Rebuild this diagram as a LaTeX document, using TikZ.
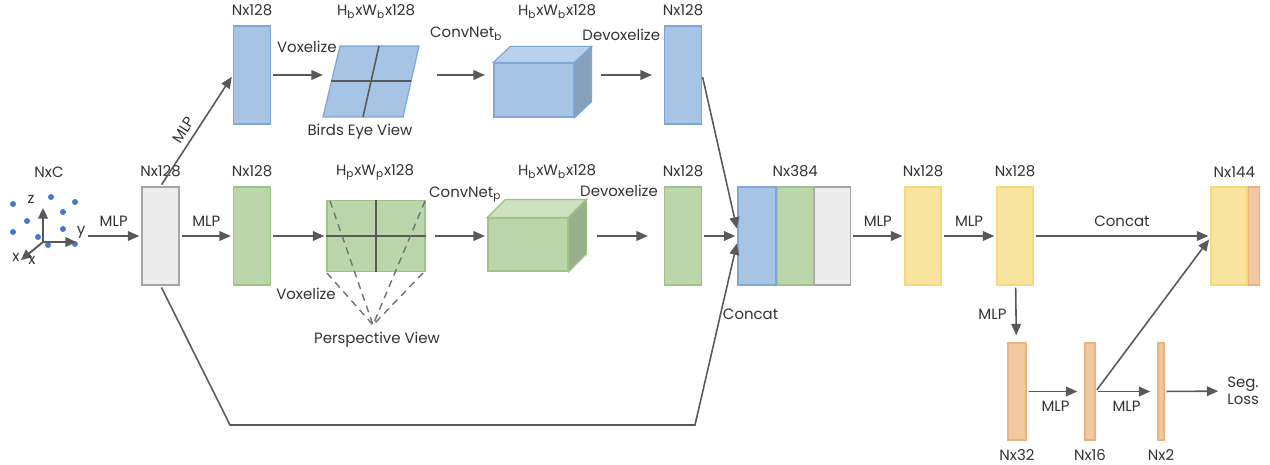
\documentclass[tikz,border=0pt]{standalone}
\usepackage{fontspec}
\setmainfont{Poppins}
\usepackage{tikz}
\usetikzlibrary{arrows.meta,positioning}
\definecolor{ink}{HTML}{333333}
\definecolor{wire}{HTML}{595959}
\definecolor{bevfill}{HTML}{A7C4E4}
\definecolor{bevline}{HTML}{7EA6D8}
\definecolor{bevtop}{HTML}{B9D0EA}
\definecolor{bevside}{HTML}{87A1BD}
\definecolor{pvfill}{HTML}{BCD6AC}
\definecolor{pvline}{HTML}{9CC487}
\definecolor{pvtop}{HTML}{CDE1C0}
\definecolor{pvside}{HTML}{99AE8B}
\definecolor{featfill}{HTML}{ECECEC}
\definecolor{featline}{HTML}{A6A6A6}
\definecolor{headfill}{HTML}{F9E49F}
\definecolor{headline}{HTML}{F6D97A}
\definecolor{segfill}{HTML}{F1C9A0}
\definecolor{segline}{HTML}{ECB27E}
\definecolor{dotblue}{HTML}{4A78D0}

\begin{document}
\begin{tikzpicture}[
    x=0.02cm, y=-0.02cm,
    every node/.style={text=ink, font=\fontsize{8.5}{9.5}\selectfont},
    bar/.style={draw, line width=0.7pt, inner sep=0pt, minimum width=0.74cm, minimum height=1.96cm},
    bevbar/.style={bar, fill=bevfill, draw=bevline},
    pvbar/.style={bar, fill=pvfill, draw=pvline},
    featbar/.style={bar, fill=featfill, draw=featline},
    headbar/.style={bar, fill=headfill, draw=headline, minimum width=0.72cm},
    segbar/.style={bar, fill=segfill, draw=segline, minimum height=1.94cm},
    lbl/.style={inner sep=0pt},
    flow/.style={-{Triangle[length=6.5pt,width=5.5pt]}, line width=0.9pt, color=wire, shorten <=1.2pt, shorten >=1.2pt},
    grid/.style={line width=0.9pt, color=wire},
    ray/.style={line width=0.8pt, color=wire!85, dash pattern=on 4pt off 3pt},
    axis/.style={-{Triangle[length=6pt,width=5.5pt]}, line width=1.1pt, color=wire}
]
    \useasboundingbox (0,0) rectangle (1270,465);

    % point cloud
    \foreach \px/\py in {13/204, 51/197, 75/202, 63/212, 27/221, 13/232, 63/229, 38/237, 48/245, 75/244}
        \fill[dotblue] (\px,\py) circle (3);
    \coordinate (origin) at (43,242);
    \draw[axis] (origin) -- (43,208);
    \draw[axis] (origin) -- (76,242);
    \draw[axis] (origin) -- (21,260);
    \node[lbl] at (31,199) {z};
    \node[lbl] at (81,232) {y};
    \node[lbl] at (16,257) {x};
    \node[lbl] at (32,260) {x};
    \node[lbl] at (49,172) {NxC};
    \coordinate (cloud) at (86,236);

    % point features
    \node[featbar] (feat) at (160.5,236) {};
    \node[lbl, above=5pt of feat] {Nx128};

    % birds eye view branch
    \node[bevbar] (bin) at (252,75) {};
    \node[lbl, above=5pt of bin] {Nx128};
    \draw[bevline, fill=bevfill, line width=0.7pt] (323,117) -- (403,117) -- (419,46) -- (340,46) -- cycle;
    \draw[grid] (379,46) -- (363,117);
    \draw[grid] (331,81) -- (411,81);
    \coordinate (bev-in) at (325,75);
    \coordinate (bev-out) at (435,75);
    \node[lbl] at (376,12) {H\textsubscript{b}xW\textsubscript{b}x128};
    \node[lbl] at (360,132) {Birds Eye View};

    \node[bar, fill=bevfill, draw=bevline, minimum width=1.6cm, minimum height=1.08cm] (cubeb) at (534,90) {};
    \draw[bevline, fill=bevtop, line width=0.7pt] (cubeb.north west) -- ([shift={(17,-16)}]cubeb.north west)
        -- ([shift={(17,-16)}]cubeb.north east) -- (cubeb.north east) -- cycle;
    \draw[bevline, fill=bevside, line width=0.7pt] (cubeb.north east) -- ([shift={(17,-16)}]cubeb.north east)
        -- ([shift={(17,-16)}]cubeb.south east) -- (cubeb.south east) -- cycle;
    \coordinate (cubeb-in) at (487,75);
    \coordinate (cubeb-out) at (599,75);
    \node[lbl] at (557,12) {H\textsubscript{b}xW\textsubscript{b}x128};

    \node[bevbar] (bout) at (683,75) {};
    \coordinate (bout-in) at (654,75);
    \node[lbl, above=5pt of bout] {Nx128};

    % perspective view branch
    \node[pvbar] (pin) at (252,236) {};
    \node[lbl, above=5pt of pin] {Nx128};
    \node[draw=pvline, fill=pvfill, line width=0.7pt, inner sep=0pt, minimum width=1.96cm, minimum height=1.42cm] (pv) at (376,236) {};
    \draw[grid] (pv.north) -- (pv.south);
    \draw[grid] (pv.west) -- (pv.east);
    \coordinate (persp) at (373,325);
    \draw[ray] (330,201) -- (persp);
    \draw[ray] (425,201) -- (persp);
    \draw[ray] (327,273) -- (persp);
    \draw[ray] (423,273) -- (persp);
    \coordinate (pv-out) at (433,236);
    \node[lbl] at (375,172) {H\textsubscript{p}xW\textsubscript{p}x128};
    \node[lbl] at (306,294) {Voxelize};
    \node[lbl] at (377,340) {Perspective View};

    \node[bar, fill=pvfill, draw=pvline, minimum width=1.6cm, minimum height=1.06cm] (cubep) at (528,244.5) {};
    \draw[pvline, fill=pvtop, line width=0.7pt] (cubep.north west) -- ([shift={(18,-18)}]cubep.north west)
        -- ([shift={(18,-18)}]cubep.north east) -- (cubep.north east) -- cycle;
    \draw[pvline, fill=pvside, line width=0.7pt] (cubep.north east) -- ([shift={(18,-18)}]cubep.north east)
        -- ([shift={(18,-18)}]cubep.south east) -- (cubep.south east) -- cycle;
    \coordinate (cubep-in) at (487,236);
    \coordinate (cubep-out) at (595,236);
    \node[lbl] at (557,172) {H\textsubscript{b}xW\textsubscript{b}x128};

    \node[pvbar] (pout) at (683,236) {};
    \coordinate (pout-in) at (650,236);
    \node[lbl, above=5pt of pout] {Nx128};

    % concatenation and head
    \node[bevbar, minimum width=0.76cm] (catb) at (757,236) {};
    \node[pvbar, minimum width=0.72cm, right=0pt of catb] (catp) {};
    \node[featbar, minimum width=0.72cm, right=0pt of catp] (catf) {};
    \node[lbl, above=5pt of catp] {Nx384};

    \node[headbar] (mlpa) at (923,236) {};
    \node[lbl, above=5pt of mlpa] {Nx128};
    \node[headbar] (mlpb) at (1015,236) {};
    \node[lbl, above=5pt of mlpb] {Nx128};
    \node[headbar] (joint) at (1229,236) {};
    \node[segbar, minimum width=0.22cm, minimum height=1.96cm, right=0pt of joint] (jointseg) {};
    \node[lbl, above=5pt of joint, xshift=3pt] {Nx144};

    \node[segbar, minimum width=0.36cm] (s32) at (1017,391.5) {};
    \node[lbl, below=5pt of s32] {Nx32};
    \node[segbar, minimum width=0.2cm] (s16) at (1090,391.5) {};
    \node[lbl, below=5pt of s16] {Nx16};
    \node[segbar, minimum width=0.12cm] (s2) at (1161,391.5) {};
    \node[lbl, below=5pt of s2] {Nx2};
    \node[lbl, align=left, anchor=west] (loss) at (1227,391) {Seg.\\Loss};

    % connectors
    \draw[flow] (cloud) -- node[lbl, above=5pt]{MLP} (feat);
    \draw[flow] (feat) -- node[lbl, above=5pt]{MLP} (pin);
    \draw[flow] (feat.north) -- node[lbl, sloped, above=3pt, pos=0.45]{MLP} (bin.west);
    \draw[flow] (bin) -- node[lbl, above=12pt, xshift=5pt]{Voxelize} (bev-in);
    \draw[flow] (bev-out) -- node[lbl, above=19pt, xshift=3pt]{ConvNet\textsubscript{b}} (cubeb-in);
    \draw[flow] (cubeb-out) -- node[lbl, above=19pt, xshift=-3pt]{Devoxelize} (bout-in);
    \draw[flow] (pin) -- (pv);
    \draw[flow] (pv-out) -- node[lbl, above=19pt, xshift=3pt]{ConvNet\textsubscript{p}} (cubep-in);
    \draw[flow] (cubep-out) -- node[lbl, above=22pt, xshift=-2pt]{Devoxelize} (pout-in);
    \draw[flow] (bout.east) -- ([yshift=3pt]catb.west);
    \draw[flow] (pout) -- (catb);
    \coordinate (skipa) at (230,425);
    \coordinate (skipb) at (695,425);
    \draw[flow] (feat.south) -- (skipa) -- (skipb) -- node[lbl, right=1pt, pos=0.6]{Concat} ([yshift=-3pt]catb.west);
    \draw[flow] (catf) -- node[lbl, above=5pt]{MLP} (mlpa);
    \draw[flow] (mlpa) -- node[lbl, above=5pt]{MLP} (mlpb);
    \draw[flow] (mlpb) -- node[lbl, above=5pt]{Concat} (joint);
    \draw[flow, shorten >=4pt] (mlpb) -- node[lbl, left=5pt]{MLP} (s32);
    \draw[flow, shorten >=4pt] (s32) -- node[lbl, below=5pt]{MLP} (s16);
    \draw[flow] (s16.east) -- ([yshift=-1pt]joint.west);
    \draw[flow, shorten >=4pt] (s16) -- node[lbl, below=5pt]{MLP} (s2);
    \draw[flow, shorten >=5pt] (s2) -- (loss);
\end{tikzpicture}
\end{document}
